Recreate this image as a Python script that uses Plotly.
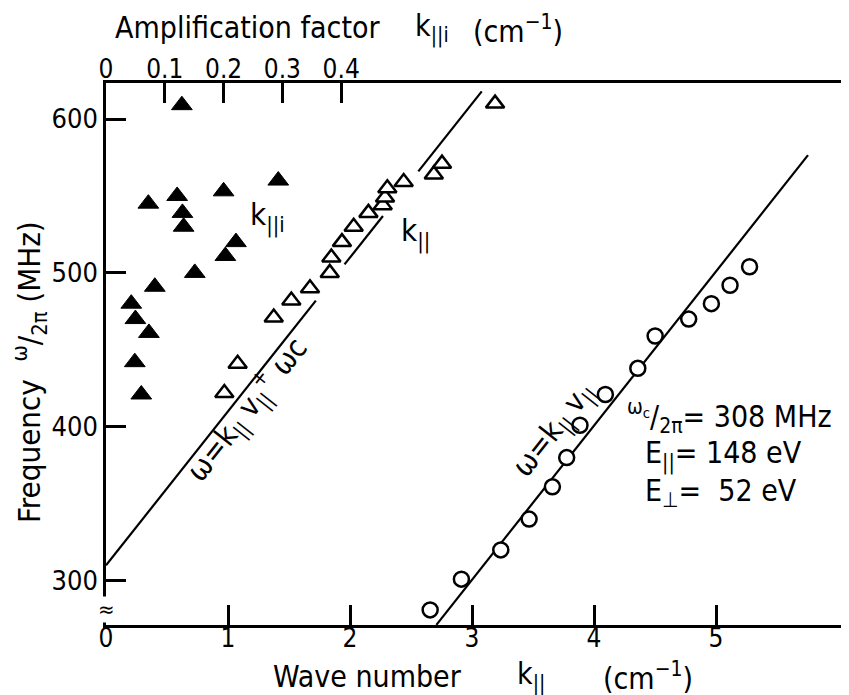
import plotly.graph_objects as go

FONT = "Liberation Sans Narrow, DejaVu Sans Condensed, Roboto Condensed, Liberation Sans, sans-serif"

# Amplification factor k||i (top axis, cm^-1) vs frequency (MHz) -- filled triangles
amp_k = [0.129, 0.072, 0.121, 0.130, 0.132, 0.200, 0.293, 0.221, 0.203, 0.151,
         0.083, 0.043, 0.050, 0.073, 0.049, 0.060]
amp_f = [609, 545, 550, 539, 530, 553, 560, 520, 511, 500,
         491, 480, 470, 461, 442, 421]

# Wave number k|| (bottom axis, cm^-1) vs frequency -- open triangles
tri_k = [0.970, 1.079, 1.375, 1.519, 1.672, 1.834, 1.847, 1.934, 2.030, 2.151,
         2.268, 2.287, 2.306, 2.440, 2.687, 2.754, 3.189]
tri_f = [422, 441, 471, 482, 490, 500, 510, 520, 530, 539,
         544, 549, 555, 559, 564, 571, 610]

# Wave number k|| vs frequency -- open circles
circ_k = [2.657, 2.913, 3.236, 3.468, 3.659, 3.776, 3.885, 4.093, 4.359, 4.501,
          4.776, 4.962, 5.115, 5.275]
circ_f = [281, 301, 320, 340, 361, 380, 401, 421, 438, 459,
          470, 480, 492, 504]

# Theory line omega = k v + omega_c (drawn in segments, None = gap)
lineA_k = [0, 1.72, None, 1.955, 2.27, None, 2.56, 3.08]
lineA_f = [310, 482, None, 505.5, 537, None, 566, 618]

# Theory line omega = k v
lineB_k = [2.708, 5.754]
lineB_f = [271.3, 576.5]

# Axis ticks
x_ticks = [0, 1, 2, 3, 4, 5]
y_ticks = [300, 400, 500, 600]
top_ticks = [0, 0.1, 0.2, 0.3, 0.4]
top_ticktext = ["0", "0.1", "0.2", "0.3", "0.4"]

fig = go.Figure()

fig.add_trace(go.Scatter(x=lineA_k, y=lineA_f, mode="lines",
                         line=dict(color="black", width=2.2),
                         connectgaps=False, showlegend=False, hoverinfo="skip"))
fig.add_trace(go.Scatter(x=lineB_k, y=lineB_f, mode="lines",
                         line=dict(color="black", width=2.2),
                         showlegend=False, hoverinfo="skip"))
fig.add_trace(go.Scatter(x=tri_k, y=tri_f, mode="markers",
                         marker=dict(symbol="triangle-up", size=16, color="white",
                                     line=dict(color="black", width=2.5)),
                         showlegend=False))
fig.add_trace(go.Scatter(x=circ_k, y=circ_f, mode="markers",
                         marker=dict(symbol="circle", size=15, color="white",
                                     line=dict(color="black", width=2.5)),
                         showlegend=False))
fig.add_trace(go.Scatter(x=amp_k, y=amp_f, mode="markers", xaxis="x2",
                         marker=dict(symbol="triangle-up", size=18, color="black",
                                     line=dict(color="black", width=1)),
                         showlegend=False))

axis_common = dict(showgrid=False, zeroline=False, showline=True, linecolor="black",
                   linewidth=2.5, ticks="inside", ticklen=20, tickwidth=2.5,
                   tickcolor="black")

fig.update_layout(
    width=841, height=687,
    margin=dict(l=98, r=0, t=75, b=70),
    paper_bgcolor="white", plot_bgcolor="white",
    font=dict(family=FONT, size=30, color="black"),
    xaxis=dict(range=[0, 6.09], tickvals=x_ticks, ticklabelstandoff=-12,
               tickfont=dict(family=FONT, size=26, color="black"), **axis_common),
    xaxis2=dict(range=[0, 1.2636], overlaying="x", side="top", anchor="y",
                tickvals=top_ticks, ticktext=top_ticktext, ticklabelstandoff=-8,
                tickfont=dict(family=FONT, size=26, color="black"), **axis_common),
    yaxis=dict(range=[271.2, 623.4], tickvals=y_ticks,
               tickfont=dict(family=FONT, size=27, color="black"), **axis_common),
)

NB = "\u00a0"
annots = [
    dict(x=1.320, y=536.3, xref="x", yref="y", text="k<sub>||i</sub>", font=dict(size=31)),
    dict(x=2.533, y=525.9, xref="x", yref="y", text="k<sub>||</sub>", font=dict(size=31)),
    dict(x=1.156, y=410.9, xref="x", yref="y",
         text="ω=k<sub>||</sub> v<sub>||</sub><sup>+</sup> ωc", textangle=-51.6, font=dict(size=30)),
    dict(x=3.680, y=397.9, xref="x", yref="y",
         text="ω=k<sub>||</sub> v<sub>||</sub>", textangle=-51.6, font=dict(size=30)),
    dict(x=4.254, y=406.4, xref="x", yref="y", xanchor="left",
         text="<sup>ω<sub>c</sub></sup>/<sub>2π</sub>= 308 MHz", font=dict(size=30)),
    dict(x=4.402, y=381.7, xref="x", yref="y", xanchor="left",
         text="E<sub>||</sub>= 148 eV", font=dict(size=30)),
    dict(x=4.402, y=357.0, xref="x", yref="y", xanchor="left",
         text="E<sub>⊥</sub>=" + NB + NB + "52 eV", font=dict(size=30)),
    # top axis title, in three pieces
    dict(x=0.1898, y=1.1015, xref="paper", yref="paper", text="Amplification factor",
         font=dict(size=30)),
    dict(x=0.4388, y=1.1015, xref="paper", yref="paper", text="k<sub>||i</sub>",
         font=dict(size=30)),
    dict(x=0.5545, y=1.0978, xref="paper", yref="paper", text="(cm<sup>−1</sup>)",
         font=dict(size=30)),
    # bottom axis title, in three pieces
    dict(x=0.352, y=-0.0941, xref="paper", yref="paper", text="Wave number", font=dict(size=30)),
    dict(x=0.572, y=-0.0941, xref="paper", yref="paper", text="k<sub>||</sub>", font=dict(size=30)),
    dict(x=0.7295, y=-0.0941, xref="paper", yref="paper", text="(cm<sup>−1</sup>)", font=dict(size=30)),
    # left axis title
    dict(x=-0.1023, y=0.4668, xref="paper", yref="paper", textangle=-90,
         text="Frequency" + NB + NB + "<sup>ω</sup>/<sub>2π</sub>" + NB + "(MHz)",
         font=dict(size=31)),
    # axis break mark
    dict(x=0, y=281, xref="paper", yref="y", text="≈",
         font=dict(size=22), bgcolor="white", borderpad=0),
]
for a in annots:
    a.setdefault("showarrow", False)
    a.setdefault("xanchor", "center")
    a.setdefault("yanchor", "middle")
    fig.add_annotation(**a)

fig.write_html("out.html")
